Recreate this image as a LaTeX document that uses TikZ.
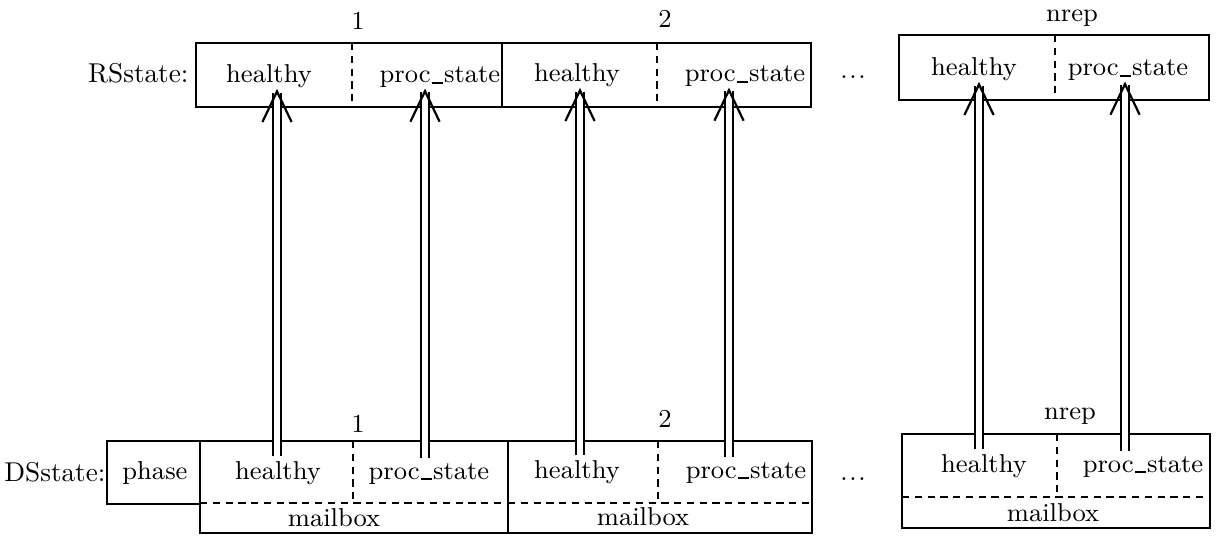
\documentclass[tikz,border=0pt]{standalone}
\usetikzlibrary{arrows.meta}
\newcommand\usc{\kern0.3pt\rule[-0.2pt]{4.2pt}{0.55pt}\kern0.3pt}
\newcommand\spreaddots{.\kern0.6pt.\kern0.6pt.}
\begin{document}
\begin{tikzpicture}[x=0.36pt,y=-0.36pt,
  font=\fontsize{9.3pt}{11pt}\selectfont,
  box/.style={line width=0.8pt},
  sep/.style={line width=0.7pt, dash pattern=on 2.6pt off 2pt},
  fld/.style={anchor=base, inner xsep=1pt, inner ysep=0pt},
  lbl/.style={anchor=base, inner sep=0pt},
  head/.style={lbl, anchor=base east, font=\fontsize{9.8pt}{12pt}\selectfont},
  lift/.style={double, double distance=1.9pt, line width=0.7pt,
    shorten <=1.5pt,
    -{Straight Barb[length=11pt,width=10.5pt,line width=0.8pt]}},
]
\useasboundingbox (0,0) rectangle (1218,535);

% ---------- RSstate ----------
\node[head] (rslabel) at (189,83) {RSstate:};
\draw[box] (196,43) rectangle (502,107);
\draw[box] (502,43) rectangle (811,107);
\draw[box] (899,35) rectangle (1209,100);
\draw[sep] (352,43) -- (352,107);
\draw[sep] (657,43) -- (657,107);
\draw[sep] (1055,35) -- (1055,100);

\node[lbl] (rsn1) at (358,30) {1};
\node[lbl] (rsn2) at (665,28) {2};
\node[lbl] (rsnn) at (1072,22) {nrep};

\node[fld] (rs1h) at (269,83) {healthy};
\node[fld] (rs1p) at (440,83) {proc\usc state};
\node[fld] (rs2h) at (577,82) {healthy};
\node[fld] (rs2p) at (745,82) {proc\usc state};
\node[fld] (rsnh) at (974,76) {healthy};
\node[fld] (rsnp) at (1128,76) {proc\usc state};
\node[lbl] (rsdots) at (853,79) {\spreaddots};

% ---------- DSstate ----------
\node[head] (dslabel) at (106,481) {DSstate:};
\draw[box] (107,441) rectangle (200,504);
\node[fld] (phase) at (155,479) {phase};

\draw[box] (200,441) rectangle (508,533);
\draw[box] (508,441) rectangle (812,533);
\draw[box] (902,434) rectangle (1210,528);
\draw[sep] (200,503) -- (508,503);
\draw[sep] (508,503) -- (812,503);
\draw[sep] (902,497) -- (1210,497);
\draw[sep] (353,441) -- (353,503);
\draw[sep] (658,441) -- (658,503);
\draw[sep] (1057,434) -- (1057,497);

\node[lbl] (dsn1) at (358,432) {1};
\node[lbl] (dsn2) at (665,427) {2};
\node[lbl] (dsnn) at (1070,419) {nrep};

\node[fld] (ds1h) at (278,479) {healthy};
\node[fld] (ds1p) at (429,479) {proc\usc state};
\node[fld] (ds2h) at (577,478) {healthy};
\node[fld] (ds2p) at (746,478) {proc\usc state};
\node[fld] (dsnh) at (984,472) {healthy};
\node[fld] (dsnp) at (1143,472) {proc\usc state};
\node[fld] (ds1m) at (334,526) {mailbox};
\node[fld] (ds2m) at (643,525) {mailbox};
\node[fld] (dsnm) at (1053,521) {mailbox};
\node[lbl] (dsdots) at (853,480) {\spreaddots};

% ---------- state transfer: one double arrow per field ----------
\coordinate (x1h) at (277,0);
\coordinate (x1p) at (425,0);
\coordinate (x2h) at (580,0);
\coordinate (x2p) at (729,0);
\coordinate (xnh) at (979,0);
\coordinate (xnp) at (1125,0);
\foreach \f in {1h,1p,2h,2p,nh,np}
  \draw[lift] (x\f |- ds\f.north) -- (x\f |- rs\f.south);

\end{tikzpicture}
\end{document}
